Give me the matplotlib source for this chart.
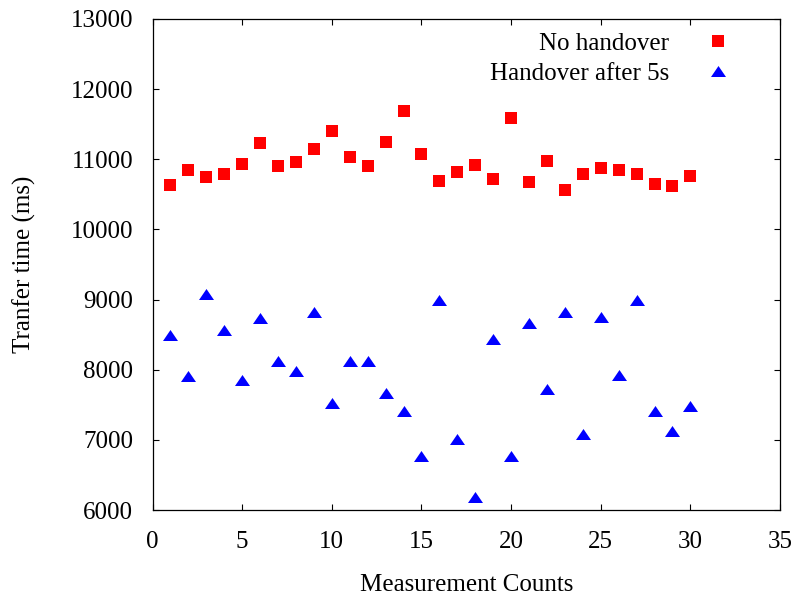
import matplotlib
matplotlib.use("Agg")
import matplotlib.pyplot as plt

counts = list(range(1, 31))
no_handover = [10635, 10844, 10754, 10796, 10929, 11227, 10900, 10962, 11152, 11398,
               11033, 10900, 11242, 11692, 11081, 10697, 10815, 10915, 10725, 11588,
               10682, 10972, 10564, 10796, 10872, 10844, 10796, 10649, 10621, 10768]
handover_5s = [8498, 7910, 9085, 8573, 7853, 8744, 8128, 7981, 8820, 7531,
               8128, 8128, 7664, 7417, 6768, 9000, 7019, 6185, 8431, 6768,
               8659, 7725, 8825, 7081, 8749, 7919, 9000, 7417, 7123, 7479]
xticks = [0, 5, 10, 15, 20, 25, 30, 35]
yticks = [6000, 7000, 8000, 9000, 10000, 11000, 12000, 13000]
labels = ["No handover", "Handover after 5s"]

plt.rcParams['font.family'] = ['Liberation Serif', 'DejaVu Serif']

fig = plt.figure(figsize=(7.96, 6.01), dpi=100)
ax = fig.add_axes([0.1916, 0.1514, 0.9799 - 0.1916, 0.9684 - 0.1514])

tri = [(-7.5, -5.5), (7.5, -5.5), (0, 5.5), (-7.5, -5.5)]
ax.plot(counts, no_handover, linestyle='none', marker='s', markersize=8.2,
        color='#ff0000', markeredgewidth=0, label=labels[0])
ax.plot(counts, handover_5s, linestyle='none', marker=tri, markersize=10.8,
        color='#0000ff', markeredgewidth=0, label=labels[1])

ax.set_xlim(0, 35)
ax.set_ylim(6000, 13000)
ax.set_xticks(xticks)
ax.set_yticks(yticks)
ax.tick_params(direction='in', length=4.5, width=0.8, top=True, right=True,
               labelsize=18, colors='black')
ax.tick_params(axis='x', pad=15)
ax.tick_params(axis='y', pad=14)
for s in ax.spines.values():
    s.set_linewidth(0.9)

ax.set_xlabel("Measurement Counts", fontsize=18, labelpad=15)
ax.set_ylabel("Tranfer time (ms)", fontsize=18, labelpad=25)

leg = ax.legend(loc='upper right', frameon=False, markerfirst=False, fontsize=18,
                handletextpad=1.2, labelspacing=0.3, borderaxespad=0.0,
                bbox_to_anchor=(0.947, 0.993), handlelength=1.5)

fig.savefig("out.png", dpi=100)
